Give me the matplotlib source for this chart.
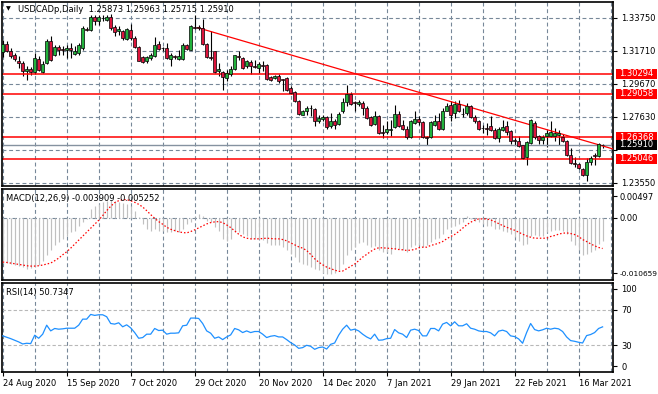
import numpy as np
import matplotlib
matplotlib.use('Agg')
import matplotlib.pyplot as plt
from matplotlib.patches import Rectangle
import matplotlib.transforms as mtransforms

# ---------------- data ----------------
opens = [
 1.3165, 1.3214, 1.3169, 1.3144, 1.3111, 1.3097, 1.3045, 1.3060, 1.3039, 1.3122,
 1.3039, 1.3097, 1.3231, 1.3148, 1.3194, 1.3181, 1.3175, 1.3190, 1.3155, 1.3159,
 1.3190, 1.3305, 1.3303, 1.3379, 1.3354, 1.3377, 1.3365, 1.3379, 1.3319, 1.3293,
 1.3297, 1.3247, 1.3303, 1.3251, 1.3196, 1.3132, 1.3107, 1.3128, 1.3138, 1.3214,
 1.3192, 1.3190, 1.3124, 1.3140, 1.3124, 1.3124, 1.3206, 1.3179, 1.3319, 1.3317,
 1.3313, 1.3214, 1.3132, 1.3169, 1.3045, 1.3041, 1.3004, 1.3029, 1.3060, 1.3140,
 1.3128, 1.3076, 1.3103, 1.3078, 1.3066, 1.3082, 1.3087, 1.3008, 1.3004, 1.3019,
 1.2996, 1.3004, 1.2942, 1.2916, 1.2860, 1.2778, 1.2798, 1.2821, 1.2815, 1.2736,
 1.2749, 1.2765, 1.2706, 1.2741, 1.2720, 1.2798, 1.2856, 1.2905, 1.2856, 1.2844,
 1.2850, 1.2819, 1.2761, 1.2720, 1.2771, 1.2671, 1.2669, 1.2681, 1.2699, 1.2782,
 1.2712, 1.2691, 1.2638, 1.2726, 1.2753, 1.2732, 1.2640, 1.2638, 1.2716, 1.2741,
 1.2691, 1.2802, 1.2839, 1.2788, 1.2844, 1.2784, 1.2788, 1.2833, 1.2761, 1.2741,
 1.2697, 1.2695, 1.2706, 1.2685, 1.2633, 1.2685, 1.2706, 1.2679, 1.2619, 1.2617,
 1.2588, 1.2514, 1.2603, 1.2726, 1.2644, 1.2623, 1.2648, 1.2648, 1.2648, 1.2650,
 1.2638, 1.2613, 1.2527, 1.2477, 1.2473, 1.2444, 1.2403, 1.2485, 1.2527, 1.2520,
 1.25873]
highs = [
 1.3241, 1.3231, 1.3190, 1.3159, 1.3138, 1.3107, 1.3076, 1.3070, 1.3159, 1.3138,
 1.3107, 1.3245, 1.3262, 1.3210, 1.3210, 1.3200, 1.3210, 1.3221, 1.3200, 1.3221,
 1.3323, 1.3317, 1.3396, 1.3396, 1.3396, 1.3396, 1.3396, 1.3400, 1.3330, 1.3323,
 1.3303, 1.3313, 1.3338, 1.3262, 1.3200, 1.3138, 1.3138, 1.3159, 1.3258, 1.3231,
 1.3194, 1.3221, 1.3159, 1.3148, 1.3179, 1.3221, 1.3214, 1.3334, 1.3391, 1.3334,
 1.3371, 1.3221, 1.3293, 1.3169, 1.3097, 1.3045, 1.3056, 1.3076, 1.3148, 1.3169,
 1.3132, 1.3117, 1.3117, 1.3117, 1.3103, 1.3107, 1.3091, 1.3014, 1.3025, 1.3029,
 1.3000, 1.3008, 1.2957, 1.2922, 1.2870, 1.2809, 1.2829, 1.2835, 1.2819, 1.2773,
 1.2778, 1.2767, 1.2788, 1.2751, 1.2794, 1.2881, 1.2959, 1.2918, 1.2864, 1.2870,
 1.2860, 1.2829, 1.2767, 1.2802, 1.2778, 1.2712, 1.2736, 1.2747, 1.2839, 1.2798,
 1.2747, 1.2706, 1.2747, 1.2802, 1.2767, 1.2741, 1.2644, 1.2741, 1.2778, 1.2788,
 1.2819, 1.2850, 1.2860, 1.2860, 1.2870, 1.2819, 1.2850, 1.2839, 1.2778, 1.2747,
 1.2716, 1.2726, 1.2767, 1.2695, 1.2699, 1.2747, 1.2736, 1.2685, 1.2633, 1.2644,
 1.2592, 1.2613, 1.2751, 1.2736, 1.2654, 1.2654, 1.2685, 1.2741, 1.2695, 1.2685,
 1.2658, 1.2623, 1.2572, 1.2514, 1.2479, 1.2448, 1.2510, 1.2520, 1.2541, 1.2603,
 1.25963]
lows = [
 1.3134, 1.3165, 1.3128, 1.3107, 1.3066, 1.3014, 1.2994, 1.3025, 1.3029, 1.3045,
 1.3035, 1.3091, 1.3111, 1.3138, 1.3148, 1.3148, 1.3128, 1.3128, 1.3148, 1.3148,
 1.3179, 1.3293, 1.3293, 1.3330, 1.3334, 1.3354, 1.3354, 1.3303, 1.3262, 1.3272,
 1.3241, 1.3241, 1.3241, 1.3190, 1.3107, 1.3097, 1.3097, 1.3117, 1.3132, 1.3175,
 1.3169, 1.3124, 1.3076, 1.3124, 1.3117, 1.3117, 1.3179, 1.3175, 1.3309, 1.3303,
 1.3210, 1.3128, 1.3117, 1.3035, 1.3014, 1.2928, 1.2984, 1.3014, 1.3056, 1.3117,
 1.3062, 1.3066, 1.3029, 1.3066, 1.3035, 1.3050, 1.2992, 1.2988, 1.3000, 1.2973,
 1.2926, 1.2926, 1.2906, 1.2856, 1.2778, 1.2773, 1.2773, 1.2767, 1.2708, 1.2726,
 1.2741, 1.2691, 1.2695, 1.2691, 1.2712, 1.2788, 1.2829, 1.2839, 1.2802, 1.2829,
 1.2778, 1.2753, 1.2706, 1.2712, 1.2658, 1.2633, 1.2660, 1.2644, 1.2695, 1.2699,
 1.2685, 1.2629, 1.2633, 1.2720, 1.2716, 1.2633, 1.2588, 1.2633, 1.2706, 1.2685,
 1.2685, 1.2798, 1.2736, 1.2757, 1.2794, 1.2761, 1.2778, 1.2757, 1.2726, 1.2685,
 1.2664, 1.2654, 1.2679, 1.2629, 1.2607, 1.2675, 1.2650, 1.2596, 1.2588, 1.2576,
 1.2506, 1.2465, 1.2596, 1.2629, 1.2596, 1.2596, 1.2576, 1.2638, 1.2617, 1.2588,
 1.2607, 1.2520, 1.2473, 1.2452, 1.2442, 1.2397, 1.2366, 1.2465, 1.2469, 1.2514,
 1.25715]
closes = [
 1.3214, 1.3169, 1.3138, 1.3122, 1.3097, 1.3045, 1.3062, 1.3039, 1.3128, 1.3056,
 1.3091, 1.3235, 1.3117, 1.3194, 1.3175, 1.3177, 1.3190, 1.3175, 1.3173, 1.3206,
 1.3313, 1.3301, 1.3379, 1.3354, 1.3379, 1.3373, 1.3379, 1.3313, 1.3288, 1.3309,
 1.3251, 1.3307, 1.3251, 1.3196, 1.3111, 1.3103, 1.3134, 1.3148, 1.3210, 1.3183,
 1.3188, 1.3128, 1.3148, 1.3136, 1.3138, 1.3210, 1.3183, 1.3323, 1.3315, 1.3313,
 1.3214, 1.3132, 1.3128, 1.3039, 1.3062, 1.3008, 1.3035, 1.3060, 1.3144, 1.3136,
 1.3066, 1.3107, 1.3076, 1.3074, 1.3091, 1.3078, 1.3000, 1.2994, 1.3019, 1.2988,
 1.2992, 1.2932, 1.2912, 1.2860, 1.2782, 1.2802, 1.2819, 1.2817, 1.2736, 1.2757,
 1.2765, 1.2699, 1.2741, 1.2716, 1.2782, 1.2856, 1.2905, 1.2844, 1.2852, 1.2854,
 1.2819, 1.2757, 1.2712, 1.2767, 1.2664, 1.2667, 1.2689, 1.2691, 1.2782, 1.2706,
 1.2691, 1.2638, 1.2741, 1.2753, 1.2732, 1.2638, 1.2636, 1.2732, 1.2741, 1.2691,
 1.2802, 1.2833, 1.2778, 1.2846, 1.2803, 1.2780, 1.2829, 1.2761, 1.2736, 1.2691,
 1.2693, 1.2691, 1.2685, 1.2633, 1.2691, 1.2701, 1.2671, 1.2617, 1.2615, 1.2582,
 1.2510, 1.2609, 1.2747, 1.2638, 1.2623, 1.2640, 1.2664, 1.2669, 1.2667, 1.2667,
 1.2613, 1.2531, 1.2479, 1.2473, 1.2448, 1.2403, 1.2485, 1.2510, 1.2523, 1.2596,
 1.25910]

macd_main = [
 -0.00747, -0.00770, -0.00792, -0.00815, -0.00832, -0.00844, -0.00872, -0.00861, -0.00838, -0.00804,
 -0.00747, -0.00644, -0.00559, -0.00473, -0.00416, -0.00359, -0.00302, -0.00245, -0.00217, -0.00131,
 -0.00063, -0.00010, 0.00154, 0.00200, 0.00239, 0.00279, 0.00296, 0.00314, 0.00296, 0.00279,
 0.00257, 0.00239, 0.00200, 0.00125, 0.00011, -0.00103, -0.00188, -0.00217, -0.00188, -0.00217,
 -0.00217, -0.00245, -0.00245, -0.00217, -0.00234, -0.00188, -0.00103, -0.00063, 0.00011, 0.00068,
 0.00029, -0.00046, -0.00074, -0.00160, -0.00217, -0.00359, -0.00388, -0.00359, -0.00245, -0.00245,
 -0.00274, -0.00302, -0.00359, -0.00359, -0.00359, -0.00371, -0.00428, -0.00462, -0.00473, -0.00473,
 -0.00502, -0.00559, -0.00616, -0.00673, -0.00758, -0.00787, -0.00815, -0.00844, -0.00872, -0.00901,
 -0.00941, -0.00958, -0.00958, -0.00946, -0.00901, -0.00787, -0.00644, -0.00559, -0.00502, -0.00428,
 -0.00416, -0.00473, -0.00502, -0.00490, -0.00559, -0.00587, -0.00587, -0.00616, -0.00530, -0.00530,
 -0.00559, -0.00587, -0.00502, -0.00473, -0.00473, -0.00502, -0.00473, -0.00416, -0.00359, -0.00348,
 -0.00274, -0.00188, -0.00160, -0.00131, -0.00103, -0.00074, 0.00040, -0.00017, -0.00046, -0.00063,
 -0.00103, -0.00131, -0.00143, -0.00188, -0.00188, -0.00217, -0.00245, -0.00274, -0.00331, -0.00388,
 -0.00462, -0.00445, -0.00302, -0.00291, -0.00302, -0.00302, -0.00245, -0.00217, -0.00200, -0.00200,
 -0.00217, -0.00274, -0.00388, -0.00462, -0.00559, -0.00644, -0.00616, -0.00587, -0.00559, -0.00445,
 -0.003909]
macd_signal = [
 -0.00758, -0.00764, -0.00775, -0.00787, -0.00798, -0.00809, -0.00821, -0.00827, -0.00827, -0.00821,
 -0.00809, -0.00792, -0.00775, -0.00735, -0.00690, -0.00633, -0.00581, -0.00519, -0.00450, -0.00382,
 -0.00314, -0.00245, -0.00177, -0.00108, -0.00040, 0.00040, 0.00125, 0.00200, 0.00262, 0.00296,
 0.00314, 0.00314, 0.00296, 0.00268, 0.00234, 0.00188, 0.00125, 0.00057, -0.00006, -0.00063,
 -0.00108, -0.00160, -0.00194, -0.00217, -0.00239, -0.00251, -0.00257, -0.00234, -0.00205, -0.00171,
 -0.00137, -0.00103, -0.00080, -0.00068, -0.00063, -0.00080, -0.00120, -0.00165, -0.00222, -0.00279,
 -0.00325, -0.00348, -0.00359, -0.00359, -0.00359, -0.00353, -0.00348, -0.00353, -0.00359, -0.00359,
 -0.00371, -0.00393, -0.00428, -0.00462, -0.00496, -0.00519, -0.00559, -0.00627, -0.00701, -0.00758,
 -0.00804, -0.00844, -0.00872, -0.00895, -0.00918, -0.00912, -0.00872, -0.00832, -0.00792, -0.00735,
 -0.00673, -0.00627, -0.00576, -0.00536, -0.00513, -0.00513, -0.00519, -0.00524, -0.00530, -0.00542,
 -0.00547, -0.00559, -0.00553, -0.00542, -0.00513, -0.00502, -0.00502, -0.00473, -0.00456, -0.00433,
 -0.00405, -0.00359, -0.00319, -0.00285, -0.00234, -0.00177, -0.00120, -0.00074, -0.00040, -0.00017,
 -0.00017, -0.00017, -0.00034, -0.00063, -0.00097, -0.00131, -0.00160, -0.00188, -0.00211, -0.00245,
 -0.00279, -0.00308, -0.00331, -0.00348, -0.00348, -0.00348, -0.00348, -0.00319, -0.00302, -0.00279,
 -0.00262, -0.00257, -0.00268, -0.00285, -0.00319, -0.00371, -0.00405, -0.00445, -0.00479, -0.00507,
 -0.005252]
rsi = [
 40.6, 39.1, 37.5, 35.7, 33.8, 31.5, 32.3, 31.9, 41.3, 37.9,
 42.5, 52.6, 46.2, 48.9, 48.1, 48.5, 49.2, 49.2, 49.2, 52.6,
 59.4, 59.4, 64.7, 63.6, 64.3, 64.3, 62.1, 54.5, 53.8, 55.3,
 50.8, 53.0, 49.6, 44.3, 37.9, 38.7, 42.5, 42.5, 48.9, 46.6,
 47.0, 42.5, 43.6, 43.6, 44.0, 51.9, 52.6, 60.6, 60.6, 60.2,
 54.5, 46.2, 43.6, 37.9, 39.4, 36.4, 39.4, 41.7, 48.9, 47.4,
 44.3, 46.2, 44.3, 45.5, 45.5, 42.5, 38.7, 40.2, 40.9, 39.4,
 39.4, 36.4, 33.0, 30.4, 26.6, 27.4, 30.0, 28.9, 25.5, 27.4,
 28.1, 25.8, 31.1, 32.6, 41.3, 48.1, 52.6, 47.0, 48.1, 46.2,
 42.5, 39.4, 37.2, 42.5, 35.7, 36.0, 37.5, 37.9, 47.7, 44.0,
 42.5, 38.7, 47.0, 48.1, 46.6, 40.6, 40.6, 48.9, 48.9, 46.2,
 53.8, 55.7, 51.9, 56.4, 51.9, 51.9, 54.2, 49.2, 48.1, 46.2,
 45.5, 45.5, 44.0, 40.6, 45.9, 47.0, 45.5, 40.6, 39.8, 37.2,
 32.3, 44.3, 54.5, 47.7, 46.2, 47.4, 49.2, 48.1, 49.2, 48.5,
 45.5, 39.4, 35.3, 34.5, 33.4, 32.6, 40.9, 42.1, 44.3, 48.9,
 50.7347]

level_prices = [1.30294, 1.29058, 1.26368, 1.25046]
last_price = 1.25910
trend_bars = [48.75, 152.65]
trend_prices = [1.3315, 1.2565]
price_grid = [1.33750, 1.31710, 1.29670, 1.27630, 1.25590, 1.23550]
price_grid_labels = ['1.33750', '1.31710', '1.29670', '1.27630', '', '1.23550']
price_ylim = (1.23364, 1.34770)
macd_ylim = (-0.010659, 0.00497)
macd_labels = ['0.00497', '0.00', '-0.010659']
rsi_levels = [70, 30]
rsi_labels = ['100', '70', '30', '0']
date_labels = ['24 Aug 2020', '15 Sep 2020', '7 Oct 2020', '29 Oct 2020',
               '20 Nov 2020', '14 Dec 2020', '7 Jan 2021', '29 Jan 2021',
               '22 Feb 2021', '16 Mar 2021']
date_bars = [0, 16, 32, 48, 64, 80, 96, 112, 128, 144]
title_main = 'USDCADp,Daily  1.25873 1.25963 1.25715 1.25910'
title_macd = 'MACD(12,26,9) -0.003909 -0.005252'
title_rsi = 'RSI(14) 50.7347'

# ---------------- drawing ----------------
plt.rcParams['font.family'] = ['DejaVu Sans']
FS = 6.0
W, H = 658, 394
fig = plt.figure(figsize=(W / 100, H / 100), dpi=100)
fig.patch.set_facecolor('white')

L, R = 1.5, 613.0

def px_axes(top, bottom):
    return fig.add_axes([L / W, 1 - bottom / H, (R - L) / W, (bottom - top) / H])

ax1 = px_axes(1.5, 186.0)
ax2 = px_axes(189.0, 280.0)
ax3 = px_axes(283.0, 372.0)

n = len(closes)
x = np.arange(n)
o = np.array(opens); c = np.array(closes); h = np.array(highs); lo = np.array(lows)
XLIM = (-0.3, 152.6)
GRID = '#778899'
grid_x = np.arange(0, 153, 8)

for ax in (ax1, ax2, ax3):
    ax.set_xlim(*XLIM)
    for s in ax.spines.values():
        s.set_color('black'); s.set_linewidth(1.2)
    ax.yaxis.tick_right()
    ax.tick_params(axis='y', which='both', length=3, width=0.8, pad=3,
                   labelsize=FS, colors='black', direction='out')
    for xv in grid_x:
        ax.axvline(xv, color=GRID, lw=0.8, ls=(0, (3.5, 2.5)), zorder=0.5)

# main panel
ax1.set_ylim(*price_ylim)
for yv in price_grid:
    ax1.axhline(yv, color=GRID, lw=0.8, ls=(0, (3.5, 2.5)), zorder=0.5)
ax1.set_yticks(price_grid)
ax1.set_yticklabels(price_grid_labels)
ax1.set_xticks([])

up = c >= o
body_col = np.where(up, '#22b23c', '#dc143c')
ax1.vlines(x, lo, h, color='black', lw=0.8, zorder=2)
ax1.bar(x, np.maximum(np.abs(c - o), 0.00004), bottom=np.minimum(o, c), width=0.62,
        color=body_col, edgecolor='black', linewidth=0.5, zorder=3)

for lv in level_prices:
    ax1.axhline(lv, color='#ff0000', lw=1.1, zorder=2.5)
ax1.axhline(last_price, color='#8592a0', lw=1.0, zorder=2.4)
ax1.plot(trend_bars, trend_prices, color='#ff0000', lw=0.9, zorder=2.6)

# right-side price boxes
tb = mtransforms.blended_transform_factory(ax1.transAxes, ax1.transData)
axw = R - L
yr = price_ylim[1] - price_ylim[0]
half_h = 5.2 * yr / 184.5
def price_box(val, fc):
    ax1.add_patch(Rectangle(((615.5 - L) / axw, val - half_h), (656.5 - 615.5) / axw, 2 * half_h,
                            transform=tb, facecolor=fc, edgecolor='none', clip_on=False, zorder=10))
    ax1.text((619.5 - L) / axw, val, '%.5f' % val, transform=tb, color='white', fontsize=FS,
             va='center', ha='left', clip_on=False, zorder=11)
for lv in level_prices:
    price_box(lv, '#ff0000')
price_box(last_price, 'black')

ax1.text(4.5 / axw, 1 - 7.5 / 184.5, '\u25BC', transform=ax1.transAxes, fontsize=4.5,
         va='center', ha='left', color='black', zorder=12)
ax1.text(16.5 / axw, 1 - 8 / 184.5, title_main, transform=ax1.transAxes, fontsize=FS,
         va='center', ha='left', color='black', zorder=12)

# MACD panel
ax2.set_ylim(*macd_ylim)
mr = macd_ylim[1] - macd_ylim[0]
ax2.axhline(0, color=GRID, lw=0.8, ls=(0, (4, 2, 1, 2)), zorder=0.6)
ax2.vlines(x, 0, macd_main, color='#c0c0c0', lw=0.85, zorder=2)
ax2.plot(x, macd_signal, color='#ff0000', lw=0.9, ls=(0, (1.2, 1.6)), zorder=3)
ax2.set_xticks([])
ax2.set_yticks([macd_ylim[1] - 7 * mr / 91, 0, macd_ylim[0] + 7 * mr / 91])
ax2.set_yticklabels(macd_labels)
ax2.tick_params(axis='y', pad=2)
ax2.get_yticklabels()[2].set_fontsize(5.3)
ax2.text(4.5 / axw, 1 - 9 / 91, title_macd, transform=ax2.transAxes, fontsize=FS,
         va='center', ha='left', color='black', zorder=12)

# RSI panel
ax3.set_ylim(0, 100)
for lv in rsi_levels:
    ax3.axhline(lv, color='#b8b8b8', lw=0.8, ls=(0, (3, 2)), zorder=0.6)
ax3.plot(x, rsi, color='#1e90ff', lw=0.9, zorder=3)
ax3.set_yticks([100 - 6 * 100 / 89, 70, 30, 6 * 100 / 89])
ax3.set_yticklabels(rsi_labels)
ax3.set_xticks(date_bars)
ax3.set_xticklabels(date_labels)
ax3.tick_params(axis='x', length=3, width=0.8, pad=2, labelsize=FS, direction='out')
for lab in ax3.get_xticklabels():
    lab.set_horizontalalignment('left')
ax3.text(4.5 / axw, 1 - 9 / 89, title_rsi, transform=ax3.transAxes, fontsize=FS,
         va='center', ha='left', color='black', zorder=12)

fig.savefig('out.png', dpi=100, facecolor='white')
